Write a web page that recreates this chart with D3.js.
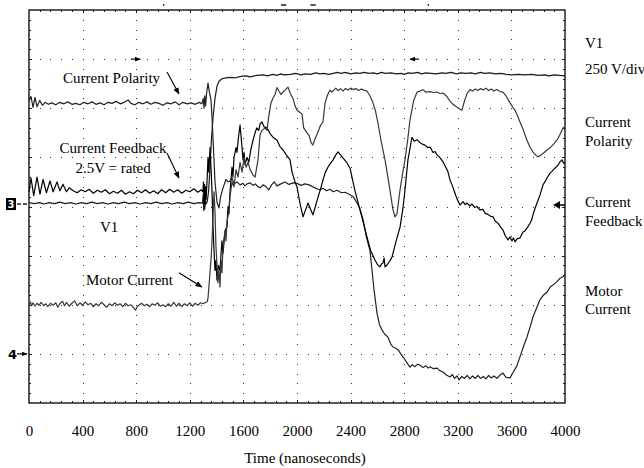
<!DOCTYPE html>
<html><head><meta charset="utf-8">
<script src="https://cdn.jsdelivr.net/npm/d3@7/dist/d3.min.js"></script>
<style>
html,body{margin:0;padding:0;background:#fff;overflow:hidden;}
svg{display:block;font-family:"Liberation Serif","Times New Roman",serif;}
</style></head><body>
<svg id="c" width="644" height="468"></svg>
<script>
// ---- data (time in ns, value in screen divisions 0..8) ----
const xTicks = [0,400,800,1200,1600,2000,2400,2800,3200,3600,4000];
const xTitle = "Time (nanoseconds)";

const v1 = [[0,4.08],[40,4.06],[80,4.08],[110,4.05],[150,4.08],[190,4.06],[230,4.09],[270,4.06],[310,4.08],[350,4.05],[390,4.08],[430,4.06],[470,4.09],[510,4.06],[550,4.08],[590,4.05],[630,4.08],[670,4.06],[710,4.09],[750,4.06],[790,4.08],[830,4.05],[870,4.08],[910,4.06],[950,4.09],[990,4.06],[1030,4.08],[1070,4.05],[1110,4.08],[1150,4.06],[1190,4.09],[1230,4.06],[1270,4.08],[1295,4.07],[1300,4.25],[1304,3.92],[1308,4.2],[1312,3.95],[1316,4.12],[1320,4.05],[1330,4.1],[1340,4.3],[1351,4.8],[1360,5.3],[1373,5.8],[1388,6.2],[1403,6.45],[1418,6.55],[1440,6.6],[1470,6.62],[1500,6.63],[1540,6.62],[1580,6.65],[1620,6.66],[1650,6.64],[1700,6.67],[1750,6.68],[1780,6.66],[1820,6.69],[1850,6.67],[1880,6.70],[1900,6.68],[1950,6.69],[1990,6.71],[2030,6.68],[2060,6.70],[2100,6.69],[2140,6.72],[2170,6.70],[2200,6.71],[2240,6.69],[2270,6.71],[2300,6.73],[2330,6.71],[2360,6.73],[2400,6.70],[2440,6.72],[2470,6.71],[2500,6.73],[2540,6.71],[2570,6.72],[2600,6.70],[2630,6.73],[2660,6.71],[2700,6.72],[2740,6.70],[2780,6.71],[2800,6.69],[2830,6.72],[2860,6.71],[2900,6.73],[2930,6.70],[2960,6.72],[3000,6.71],[3040,6.70],[3080,6.72],[3110,6.71],[3150,6.73],[3190,6.70],[3220,6.72],[3260,6.71],[3300,6.72],[3330,6.70],[3370,6.73],[3400,6.71],[3440,6.72],[3480,6.70],[3520,6.71],[3560,6.69],[3600,6.68],[3650,6.69],[3700,6.68],[3750,6.69],[3800,6.67],[3850,6.68],[3880,6.66],[3920,6.68],[3960,6.67],[4000,6.66]];

const polarity = [[0,6.14],[15,6.24],[30,6.02],[45,6.22],[60,6.03],[80,6.16],[100,6.06],[120,6.12],[145,6.08],[170,6.11],[200,6.07],[230,6.12],[260,6.09],[290,6.13],[320,6.08],[350,6.1],[380,6.07],[410,6.12],[440,6.09],[470,6.13],[500,6.08],[530,6.11],[560,6.07],[590,6.12],[620,6.1],[650,6.14],[680,6.09],[710,6.12],[740,6.17],[760,6.1],[790,6.07],[820,6.12],[850,6.09],[880,6.13],[910,6.08],[940,6.12],[970,6.1],[1000,6.06],[1030,6.11],[1060,6.09],[1090,6.13],[1120,6.07],[1150,6.12],[1180,6.09],[1210,6.11],[1240,6.08],[1270,6.12],[1290,6.09],[1300,6.2],[1306,6.0],[1312,6.25],[1318,6.05],[1325,6.3],[1336,6.51],[1345,6.35],[1358,6.17],[1366,5.8],[1373,5.4],[1388,4.5],[1403,4.09],[1418,3.97],[1430,4.2],[1448,4.38],[1470,4.55],[1485,4.5],[1500,4.52],[1515,4.58],[1530,4.46],[1552,4.5],[1575,4.44],[1597,4.47],[1612,4.42],[1627,4.46],[1650,4.48],[1672,4.43],[1690,4.46],[1705,4.41],[1724,4.38],[1746,4.44],[1770,4.4],[1790,4.34],[1810,4.44],[1830,4.5],[1850,4.42],[1880,4.46],[1910,4.5],[1940,4.45],[1970,4.48],[2000,4.47],[2030,4.43],[2060,4.46],[2090,4.44],[2119,4.4],[2149,4.36],[2172,4.34],[2194,4.37],[2220,4.32],[2246,4.35],[2270,4.3],[2300,4.33],[2330,4.28],[2360,4.29],[2396,4.24],[2420,4.2],[2448,4.07],[2470,3.95],[2493,3.73],[2520,3.35],[2545,3.1],[2560,2.7],[2575,2.3],[2597,1.83],[2615,1.6],[2634,1.49],[2655,1.4],[2679,1.34],[2700,1.2],[2716,1.14],[2735,1.12],[2754,1.08],[2780,0.98],[2806,0.88],[2825,0.8],[2843,0.73],[2860,0.78],[2880,0.74],[2900,0.79],[2918,0.77],[2940,0.72],[2960,0.76],[2980,0.71],[2993,0.74],[3015,0.7],[3045,0.71],[3065,0.66],[3090,0.63],[3115,0.57],[3142,0.53],[3160,0.58],[3175,0.5],[3194,0.55],[3210,0.47],[3230,0.54],[3250,0.5],[3270,0.56],[3290,0.49],[3310,0.55],[3330,0.5],[3350,0.56],[3370,0.5],[3390,0.54],[3410,0.49],[3430,0.56],[3450,0.51],[3470,0.55],[3493,0.5],[3515,0.57],[3537,0.61],[3560,0.52],[3590,0.51],[3612,0.62],[3640,0.75],[3664,0.94],[3690,1.15],[3716,1.34],[3740,1.55],[3761,1.75],[3790,1.95],[3813,2.1],[3840,2.2],[3866,2.26],[3890,2.36],[3910,2.4],[3940,2.47],[3963,2.54],[3985,2.57],[4000,2.61]];

const feedback = [[0,4.3],[15,4.58],[35,4.22],[60,4.6],[82,4.25],[105,4.55],[130,4.28],[157,4.52],[180,4.3],[209,4.5],[230,4.32],[254,4.45],[280,4.3],[300,4.38],[330,4.32],[360,4.28],[390,4.34],[420,4.3],[450,4.35],[480,4.27],[510,4.33],[540,4.29],[570,4.34],[600,4.26],[630,4.31],[660,4.27],[690,4.33],[720,4.25],[750,4.3],[780,4.26],[810,4.33],[840,4.28],[870,4.34],[900,4.27],[930,4.32],[960,4.26],[990,4.34],[1020,4.28],[1050,4.35],[1080,4.29],[1110,4.34],[1140,4.27],[1170,4.33],[1200,4.3],[1230,4.36],[1260,4.29],[1285,4.34],[1298,4.3],[1302,4.5],[1306,4.1],[1310,4.45],[1314,4.05],[1318,4.4],[1322,4.15],[1330,4.6],[1336,5.0],[1342,4.7],[1351,5.2],[1358,4.8],[1366,4.3],[1373,3.6],[1381,3.1],[1388,2.7],[1395,2.9],[1403,2.5],[1413,2.8],[1425,2.7],[1440,3.3],[1448,3.05],[1463,3.5],[1478,3.6],[1485,4.0],[1492,3.85],[1500,4.3],[1515,4.8],[1522,4.6],[1530,5.0],[1545,5.2],[1552,5.1],[1563,5.4],[1575,5.66],[1590,5.2],[1597,4.95],[1605,5.1],[1612,4.85],[1627,5.0],[1640,4.9],[1655,5.15],[1672,5.35],[1687,5.5],[1700,5.6],[1715,5.55],[1724,5.68],[1739,5.72],[1755,5.62],[1776,5.6],[1800,5.48],[1821,5.41],[1851,5.35],[1873,5.22],[1896,5.15],[1920,5.05],[1948,4.95],[1963,4.7],[1985,4.5],[2000,4.4],[2022,4.07],[2045,3.79],[2060,3.9],[2082,4.07],[2100,3.95],[2119,3.83],[2135,3.98],[2157,4.19],[2175,4.35],[2194,4.54],[2212,4.7],[2231,4.8],[2250,4.88],[2269,4.95],[2290,5.05],[2306,5.11],[2325,5.05],[2343,4.99],[2370,4.9],[2396,4.78],[2430,4.35],[2470,3.93],[2500,3.62],[2522,3.38],[2550,3.1],[2582,2.91],[2600,2.82],[2619,2.77],[2630,2.83],[2642,2.85],[2650,2.95],[2657,2.77],[2672,2.81],[2690,2.88],[2709,2.97],[2740,3.3],[2769,3.58],[2790,3.95],[2806,4.34],[2828,4.95],[2858,5.41],[2875,5.33],[2896,5.36],[2918,5.3],[2935,5.27],[2955,5.25],[2975,5.2],[2993,5.21],[3015,5.1],[3030,5.12],[3045,5.05],[3065,5.0],[3090,4.91],[3110,4.8],[3125,4.72],[3142,4.54],[3160,4.42],[3179,4.27],[3195,4.15],[3216,4.03],[3239,4.1],[3255,4.04],[3269,4.07],[3290,4.01],[3306,4.05],[3325,3.98],[3343,4.0],[3365,3.93],[3388,3.94],[3405,3.86],[3425,3.84],[3445,3.8],[3463,3.79],[3480,3.7],[3500,3.66],[3520,3.58],[3537,3.52],[3555,3.4],[3575,3.32],[3590,3.38],[3604,3.3],[3615,3.36],[3627,3.28],[3642,3.34],[3664,3.36],[3687,3.48],[3700,3.5],[3716,3.56],[3739,3.66],[3750,3.72],[3761,3.83],[3775,3.95],[3791,4.07],[3813,4.23],[3836,4.44],[3850,4.5],[3866,4.58],[3888,4.68],[3905,4.72],[3925,4.78],[3948,4.84],[3960,4.9],[3978,4.95],[3990,4.88],[4000,4.89]];

const motor = [[0,2.0],[10,2.06],[20,1.98],[30,2.04],[45,1.97],[60,2.03],[75,1.99],[90,2.05],[110,1.98],[125,2.02],[140,1.96],[160,2.03],[180,1.99],[200,2.04],[215,1.95],[230,2.02],[250,2.07],[265,1.98],[280,2.05],[300,1.97],[320,2.03],[340,2.08],[360,1.98],[380,2.04],[400,1.99],[420,2.06],[440,2.0],[460,2.03],[480,1.96],[500,2.02],[520,1.98],[540,2.05],[560,2.0],[580,1.95],[600,2.02],[620,1.98],[640,2.04],[660,1.99],[680,2.02],[700,1.96],[720,2.03],[740,1.98],[760,2.0],[780,1.94],[795,1.89],[810,1.97],[840,2.03],[860,1.98],[880,2.01],[900,1.96],[920,2.02],[940,1.99],[960,2.04],[980,1.97],[1000,2.0],[1020,1.96],[1040,2.02],[1060,1.97],[1080,2.05],[1100,1.97],[1120,2.03],[1140,1.96],[1160,2.02],[1180,1.98],[1200,2.04],[1220,1.97],[1240,2.03],[1260,1.99],[1280,2.04],[1300,2.02],[1320,2.05],[1330,2.06],[1336,2.14],[1345,2.45],[1351,2.67],[1358,2.9],[1366,3.3],[1373,3.8],[1381,4.3],[1388,3.9],[1395,3.2],[1403,2.8],[1410,2.45],[1418,2.7],[1425,2.36],[1433,2.9],[1440,2.65],[1448,3.2],[1463,3.5],[1470,3.3],[1478,3.7],[1492,3.9],[1500,4.2],[1515,4.5],[1530,4.4],[1545,4.75],[1560,4.6],[1575,4.9],[1590,4.7],[1605,5.0],[1620,4.8],[1635,4.9],[1650,4.75],[1672,4.64],[1687,4.6],[1709,4.95],[1724,5.46],[1740,5.55],[1761,5.6],[1776,5.55],[1790,5.85],[1805,6.1],[1820,6.2],[1836,6.28],[1851,6.42],[1865,6.35],[1880,6.28],[1896,6.33],[1915,6.38],[1933,6.43],[1950,6.3],[1970,6.2],[1985,6.05],[2000,5.96],[2020,5.92],[2037,5.88],[2050,5.6],[2060,5.56],[2075,5.5],[2090,5.45],[2105,5.3],[2119,5.25],[2135,5.38],[2157,5.52],[2175,5.65],[2194,5.72],[2209,6.1],[2225,6.25],[2246,6.37],[2260,6.33],[2275,6.37],[2290,6.41],[2306,6.36],[2325,6.4],[2343,6.35],[2360,6.4],[2380,6.37],[2400,6.41],[2420,6.38],[2440,6.4],[2460,6.36],[2480,6.39],[2500,6.37],[2522,6.35],[2545,6.25],[2567,6.11],[2585,5.95],[2604,5.7],[2630,5.3],[2657,4.95],[2690,4.4],[2715,3.95],[2731,3.79],[2746,3.85],[2769,4.34],[2790,4.7],[2806,4.95],[2828,5.4],[2843,5.76],[2870,6.15],[2896,6.33],[2918,6.35],[2940,6.38],[2960,6.33],[2993,6.34],[3020,6.32],[3045,6.33],[3067,6.3],[3090,6.31],[3119,6.24],[3140,6.15],[3164,6.08],[3194,6.02],[3216,5.98],[3231,5.96],[3250,6.15],[3269,6.3],[3291,6.38],[3310,6.35],[3330,6.39],[3350,6.36],[3370,6.40],[3390,6.37],[3410,6.41],[3430,6.36],[3450,6.39],[3470,6.35],[3490,6.38],[3515,6.34],[3537,6.33],[3560,6.25],[3590,6.11],[3610,6.02],[3627,5.96],[3645,5.85],[3664,5.72],[3690,5.55],[3716,5.35],[3740,5.2],[3761,5.11],[3780,5.05],[3799,5.01],[3820,5.05],[3845,5.1],[3866,5.15],[3890,5.2],[3915,5.27],[3940,5.35],[3960,5.45],[3985,5.6],[4000,5.62]];

const traceNames = ["V1","Current Polarity","Current Feedback","Motor Current"];
const rightLabels = [["V1"],["250 V/div"],["Current","Polarity"],["Current","Feedback"],["Motor","Current"]];

// ---- layout ----
const svg = d3.select("#c");
const L = 29, R = 565, T = 10, B = 403;
const x = d3.scaleLinear().domain([0,4000]).range([L,R]);
const y = d3.scaleLinear().domain([0,8]).range([B,T]);

// grid dots
const grid = svg.append("g").attr("fill","#333").attr("shape-rendering","crispEdges");
const dots = [];
for (let i=1;i<10;i++){ const t=i*400; for(let k=1;k<40;k++) dots.push([t,k/5]); }
for (let j=1;j<8;j++){ for(let k=1;k<50;k++) dots.push([k*80,j]); }
grid.selectAll("rect").data(dots).join("rect")
  .attr("x",d=>Math.round(x(d[0]))).attr("y",d=>Math.round(y(d[1])))
  .attr("width",1).attr("height",1);

// edge ticks
const ticks = svg.append("g").attr("stroke","#222").attr("stroke-width",1).attr("shape-rendering","crispEdges");
for (let k=1;k<40;k++){
  const yy = Math.round(y(k/5))+0.5, len = (k%5===0)?3:2;
  ticks.append("line").attr("x1",L).attr("x2",L+len).attr("y1",yy).attr("y2",yy);
  ticks.append("line").attr("x1",R-len).attr("x2",R).attr("y1",yy).attr("y2",yy);
}
for (let k=1;k<50;k++){
  const xx = Math.round(x(k*80))+0.5, len = (k%5===0)?3:2;
  ticks.append("line").attr("x1",xx).attr("x2",xx).attr("y1",T).attr("y2",T+len);
  ticks.append("line").attr("x1",xx).attr("x2",xx).attr("y1",B-len).attr("y2",B);
}

// frame
svg.append("rect").attr("x",L).attr("y",T).attr("width",R-L).attr("height",B-T)
  .attr("fill","none").attr("stroke","#000").attr("stroke-width",1.3);

// traces
const line = d3.line().x(d=>x(d[0])).y(d=>y(d[1]));
const series = [[v1,"#1a1a1a"],[polarity,"#222"],[feedback,"#000"],[motor,"#383838"]];
svg.append("g").selectAll("path").data(series).join("path")
  .attr("d",d=>line(d[0])).attr("fill","none").attr("stroke",d=>d[1])
  .attr("stroke-width",1.2).attr("stroke-linejoin","round");

// arrow marker
const defs = svg.append("defs");
defs.append("marker").attr("id","ah").attr("viewBox","0 0 10 10").attr("refX",9).attr("refY",5)
  .attr("markerWidth",7).attr("markerHeight",7).attr("markerUnits","userSpaceOnUse").attr("orient","auto")
  .append("path").attr("d","M0,1 L10,5 L0,9 Z").attr("fill","#000");
defs.append("marker").attr("id","sh").attr("viewBox","0 0 10 10").attr("refX",9).attr("refY",5)
  .attr("markerWidth",6).attr("markerHeight",6).attr("markerUnits","userSpaceOnUse").attr("orient","auto")
  .append("path").attr("d","M0,1 L10,5 L0,9 Z").attr("fill","#000");

// annotations (data coordinates)
const ann = svg.append("g").attr("font-size",15).attr("fill","#000");
ann.append("text").attr("x",x(254)).attr("y",y(6.51)).text("Current Polarity");
ann.append("text").attr("x",x(627)).attr("y",y(5.09)).attr("text-anchor","middle").text("Current Feedback");
ann.append("text").attr("x",x(627)).attr("y",y(4.68)).attr("text-anchor","middle").text("2.5V = rated");
ann.append("text").attr("x",x(530)).attr("y",y(3.48)).text("V1");
ann.append("text").attr("x",x(425)).attr("y",y(2.40)).text("Motor Current");
const arrows = [[1030,6.74,1119,6.29],[1030,5.09,1119,4.58],[1119,2.65,1290,2.36]];
svg.append("g").selectAll("line").data(arrows).join("line")
  .attr("x1",d=>x(d[0])).attr("y1",d=>y(d[1])).attr("x2",d=>x(d[2])).attr("y2",d=>y(d[3]))
  .attr("stroke","#000").attr("stroke-width",1.1).attr("marker-end","url(#ah)");

// trigger arrows on 7th division
const trig = [[760,830],[2910,2843]];
svg.append("g").selectAll("line").data(trig).join("line")
  .attr("x1",d=>x(d[0])).attr("x2",d=>x(d[1])).attr("y1",y(7)).attr("y2",y(7))
  .attr("stroke","#000").attr("stroke-width",1.2).attr("marker-end","url(#sh)");

// small cursor marks above the frame
const marks = svg.append("g").attr("stroke","#000").attr("stroke-width",1.3);
[[1000,1010],[1880,1920],[2100,2140],[2975,2985]].forEach(d=>{
  marks.append("line").attr("x1",x(d[0])).attr("x2",x(d[1])).attr("y1",5).attr("y2",5);
});

// channel markers left
const ch3y = y(4.05);
svg.append("rect").attr("x",6).attr("y",ch3y-6).attr("width",10).attr("height",12).attr("fill","#000");
svg.append("text").attr("x",11).attr("y",ch3y+4).attr("text-anchor","middle").attr("fill","#fff")
  .attr("font-family","DejaVu Sans, sans-serif").attr("font-size",10).attr("font-weight","bold").text("3");
svg.append("line").attr("x1",17).attr("x2",21).attr("y1",ch3y).attr("y2",ch3y).attr("stroke","#000").attr("stroke-width",1.3);
svg.append("line").attr("x1",23).attr("x2",27).attr("y1",ch3y).attr("y2",ch3y).attr("stroke","#000").attr("stroke-width",1.3);

const ch4y = y(1.0);
svg.append("text").attr("x",8).attr("y",ch4y+5).attr("font-family","DejaVu Sans, sans-serif")
  .attr("font-size",13).attr("font-weight","bold").text("4");
svg.append("line").attr("x1",17).attr("x2",27).attr("y1",ch4y).attr("y2",ch4y)
  .attr("stroke","#000").attr("stroke-width",1.2).attr("marker-end","url(#sh)");

// right trigger level marker
const ry = y(4.03);
svg.append("path").attr("d",`M${R-12},${ry} L${R-5},${ry-4} L${R-5},${ry+4} Z`).attr("fill","#000");
svg.append("line").attr("x1",R-6).attr("x2",R).attr("y1",ry).attr("y2",ry).attr("stroke","#000").attr("stroke-width",1.5);

// x axis labels
const ax = svg.append("g").attr("transform",`translate(0,${B})`)
  .call(d3.axisBottom(x).tickValues(xTicks).tickSize(0).tickPadding(22.4).tickFormat(d3.format("d")));
ax.select(".domain").remove();
ax.selectAll("text").attr("font-family","Liberation Serif, Times New Roman, serif").attr("font-size",15).attr("fill","#000");
svg.append("text").attr("x",305).attr("y",463).attr("text-anchor","middle").attr("font-size",15).text(xTitle);

// right side labels
const rl = svg.append("g").attr("font-size",15).attr("fill","#000");
const rlPos = [[48],[74],[127,146],[207,226],[296,314]];
rightLabels.forEach((lines,i)=>{
  lines.forEach((s,j)=>rl.append("text").attr("x",585).attr("y",rlPos[i][j]).text(s));
});
</script>
</body></html>
